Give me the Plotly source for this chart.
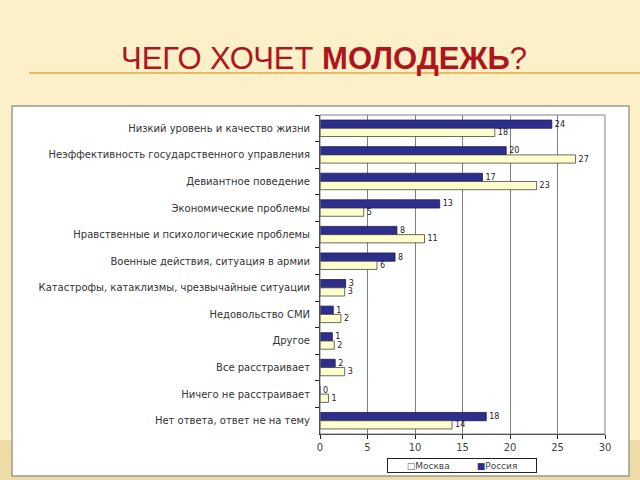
import plotly.graph_objects as go

categories = [
    "Низкий уровень и качество жизни",
    "Неэффективность государственного управления",
    "Девиантное поведение",
    "Экономические проблемы",
    "Нравственные и психологические проблемы",
    "Военные действия, ситуация в армии",
    "Катастрофы, катаклизмы, чрезвычайные ситуации",
    "Недовольство СМИ",
    "Другое",
    "Все расстраивает",
    "Ничего не расстраивает",
    "Нет ответа, ответ не на тему",
]
russia = [24.4, 19.6, 17.1, 12.6, 8.1, 7.9, 2.7, 1.4, 1.3, 1.6, 0.0, 17.5]
moscow = [18.4, 26.9, 22.8, 4.6, 11.0, 6.0, 2.6, 2.2, 1.5, 2.6, 0.9, 13.9]
russia_labels = ["24", "20", "17", "13", "8", "8", "3", "1", "1", "2", "0", "18"]
moscow_labels = ["18", "27", "23", "5", "11", "6", "3", "2", "2", "3", "1", "14"]
x_ticks = [0, 5, 10, 15, 20, 25, 30]

RUSSIA_COLOR = "#2E2E8E"
MOSCOW_COLOR = "#FFFFCC"

W, H = 640, 480
L, R, T, B = 320, 35, 115, 46
PW, PH = W - L - R, H - T - B


def px(x):
    return (x - L) / PW


def py(y):
    return (H - B - y) / PH


fig = go.Figure()
fig.add_trace(go.Bar(
    name="Россия", y=categories, x=russia, orientation="h",
    marker=dict(color=RUSSIA_COLOR, line=dict(color="#1A1A50", width=0.8)),
    text=russia_labels, textposition="outside", constraintext="none",
    textfont=dict(family="DejaVu Sans", size=8, color="#222222"),
    cliponaxis=False, hoverinfo="skip",
))
fig.add_trace(go.Bar(
    name="Москва", y=categories, x=moscow, orientation="h",
    marker=dict(color=MOSCOW_COLOR, line=dict(color="#444444", width=0.8)),
    text=moscow_labels, textposition="outside", constraintext="none",
    textfont=dict(family="DejaVu Sans", size=8, color="#222222"),
    cliponaxis=False, hoverinfo="skip",
))

shapes = [
    # lower tan strip
    dict(type="rect", xref="paper", yref="paper", x0=px(0), x1=px(W), y0=py(440), y1=py(H),
         fillcolor="#EEDCA6", line=dict(width=0), layer="below"),
    # white chart box
    dict(type="rect", xref="paper", yref="paper", x0=px(12), x1=px(629), y0=py(106), y1=py(476),
         fillcolor="white", line=dict(color="#9A9A90", width=1.5), layer="below"),
    # title underline
    dict(type="line", xref="paper", yref="paper", x0=px(29), x1=px(W), y0=py(73), y1=py(73),
         line=dict(color="#E2A640", width=1.5)),
    # plot area border
    dict(type="rect", xref="paper", yref="paper", x0=0, x1=1, y0=0, y1=1,
         line=dict(color="#808080", width=1)),
]

legend_text = (
    "<span style='color:#555555'>□</span>Москва"
    "\u2003\u2003\u2003"
    f"<span style='color:{RUSSIA_COLOR}'>■</span>Россия"
)

fig.update_layout(
    width=W, height=H,
    margin=dict(l=L, r=R, t=T, b=B, pad=0, autoexpand=False),
    paper_bgcolor="#FBF0C8",
    plot_bgcolor="white",
    barmode="group", bargap=0.38, bargroupgap=0,
    font=dict(family="DejaVu Sans", size=9, color="#333333"),
    shapes=shapes,
    showlegend=False,
    annotations=[
        dict(
            text="ЧЕГО ХОЧЕТ <b>МОЛОДЕЖЬ</b>?",
            xref="paper", yref="paper", x=px(324), y=py(78),
            xanchor="center", yanchor="bottom", showarrow=False,
            font=dict(family="Liberation Sans", size=31, color="#B0141C"),
        ),
        dict(
            text=legend_text,
            xref="paper", yref="paper", x=px(462), y=py(465),
            xanchor="center", yanchor="middle", showarrow=False,
            width=146, height=11, align="center",
            bgcolor="white", bordercolor="#222222", borderwidth=1, borderpad=1,
            font=dict(family="DejaVu Sans", size=9, color="#444444"),
        ),
    ],
    xaxis=dict(
        range=[0, 30], tickvals=x_ticks, ticks="outside", ticklen=4, tickcolor="#222222",
        showgrid=True, gridcolor="#808080", gridwidth=1,
        showline=True, linecolor="#222222", linewidth=1,
        zeroline=False, tickfont=dict(family="DejaVu Sans", size=10, color="#444444"),
        fixedrange=True, automargin=False,
    ),
    yaxis=dict(
        type="category", autorange="reversed", ticks="outside", ticklen=4,
        tickcolor="#222222", tickson="boundaries",
        showline=True, linecolor="#222222", linewidth=1, showgrid=False,
        tickfont=dict(family="DejaVu Sans", size=10, color="#333333"),
        ticklabelstandoff=7, fixedrange=True, automargin=False,
    ),
)

fig.write_html("out.html", config={"displayModeBar": False},
               post_script="document.body.style.margin='0px';")
